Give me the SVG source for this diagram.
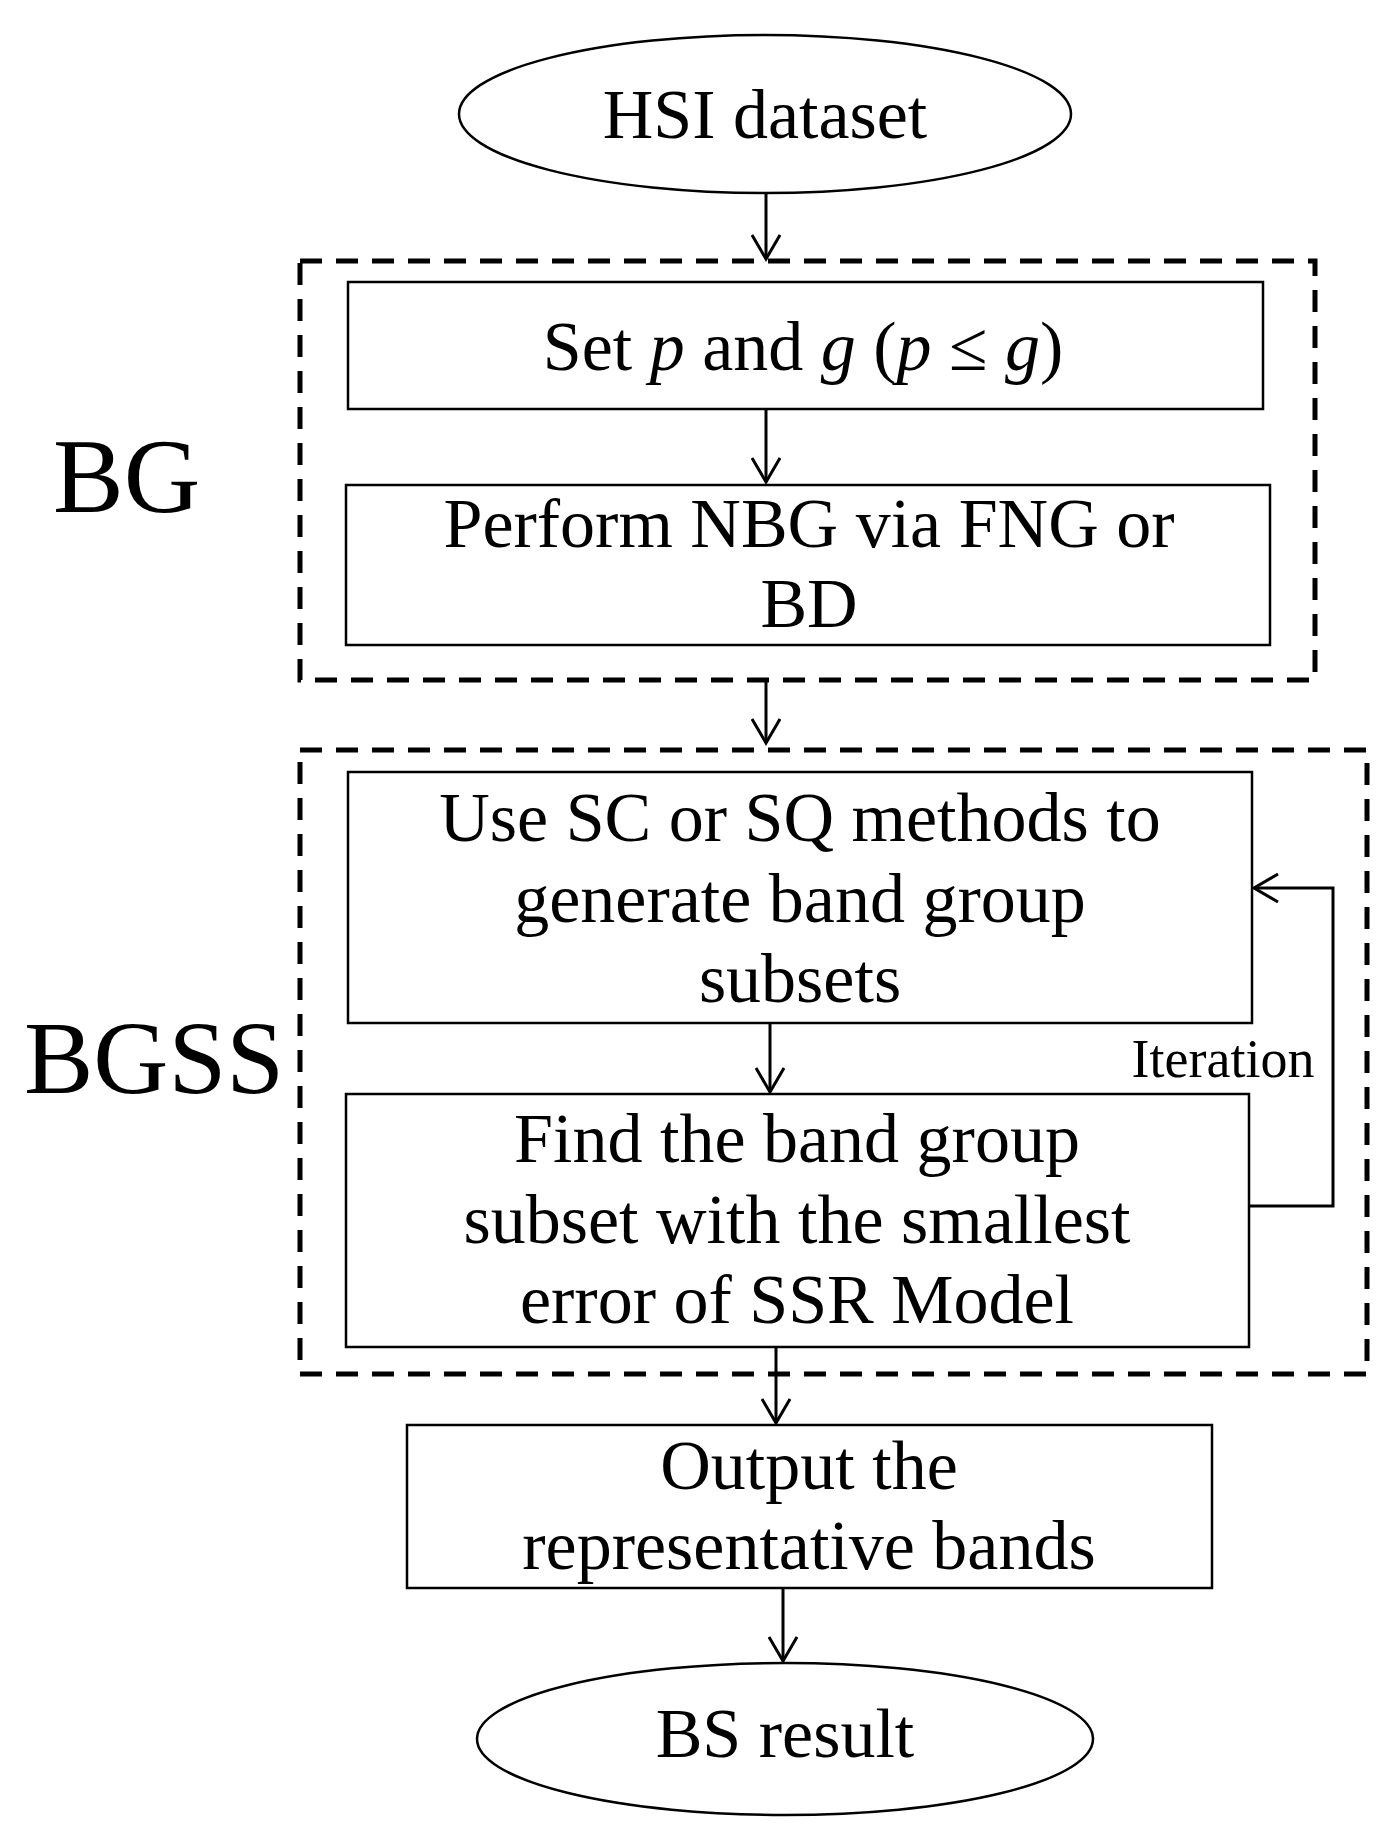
<svg xmlns="http://www.w3.org/2000/svg" width="1400" height="1827" viewBox="0 0 1400 1827">
<defs>
<marker id="a" markerWidth="30" markerHeight="30" viewBox="0 0 30 30" refX="27" refY="15" orient="auto" markerUnits="userSpaceOnUse">
<path d="M3,1 L27,15 L3,29" fill="none" stroke="#000" stroke-width="3"/>
</marker>
<style>
.t{font-family:"Liberation Serif",serif;font-size:70px;text-anchor:middle;fill:#000}
.b{fill:#fff;stroke:#000;stroke-width:2.5}
.d{fill:none;stroke:#000;stroke-width:5;stroke-dasharray:22,14}
.c{fill:none;stroke:#000;stroke-width:3;marker-end:url(#a)}
</style>
</defs>
<rect width="1400" height="1827" fill="#fff"/>
<g id="groups">
<rect class="d" x="300" y="261" width="1015" height="419"/>
<rect class="d" x="300" y="750" width="1067" height="624"/>
<text x="53" y="512" style="font-family:'Liberation Serif',serif;font-size:106px">BG</text>
<text x="24" y="1093" style="font-family:'Liberation Serif',serif;font-size:104px">BGSS</text>
</g>
<g id="hsi"><ellipse class="b" cx="765" cy="114" rx="306" ry="79"/><text class="t" x="765" y="138">HSI dataset</text></g>
<g id="set"><rect class="b" x="348" y="282" width="915" height="127"/><text class="t" x="803" y="370">Set <tspan font-style="italic">p</tspan> and <tspan font-style="italic">g</tspan> (<tspan font-style="italic">p</tspan> ≤ <tspan font-style="italic">g</tspan>)</text></g>
<g id="nbg"><rect class="b" x="346" y="485" width="924" height="160"/><text class="t" x="809" y="547">Perform NBG via FNG or</text><text class="t" x="809" y="627">BD</text></g>
<g id="sc"><rect class="b" x="348" y="772" width="904" height="251"/><text class="t" x="800" y="841">Use SC or SQ methods to</text><text class="t" x="800" y="922">generate band group</text><text class="t" x="800" y="1002">subsets</text></g>
<g id="find"><rect class="b" x="346" y="1094" width="903" height="253"/><text class="t" x="797" y="1162">Find the band group</text><text class="t" x="797" y="1243">subset with the smallest</text><text class="t" x="797" y="1323">error of SSR Model</text></g>
<g id="out"><rect class="b" x="407" y="1425" width="805" height="163"/><text class="t" x="809" y="1489">Output the</text><text class="t" x="809" y="1569">representative bands</text></g>
<g id="bs"><ellipse class="b" cx="785" cy="1739" rx="308" ry="76"/><text class="t" x="785" y="1757">BS result</text></g>
<g id="connectors">
<line class="c" x1="766" y1="194" x2="766" y2="259"/>
<line class="c" x1="766" y1="409" x2="766" y2="482"/>
<line class="c" x1="766" y1="680" x2="766" y2="743"/>
<line class="c" x1="770" y1="1023" x2="770" y2="1092"/>
<line class="c" x1="776" y1="1347" x2="776" y2="1423"/>
<line class="c" x1="783" y1="1588" x2="783" y2="1661"/>
<polyline class="c" points="1249,1206 1333,1206 1333,888 1254,888"/>
<text x="1223" y="1077" style="font-family:'Liberation Serif',serif;font-size:54px;text-anchor:middle">Iteration</text>
</g>
</svg>
